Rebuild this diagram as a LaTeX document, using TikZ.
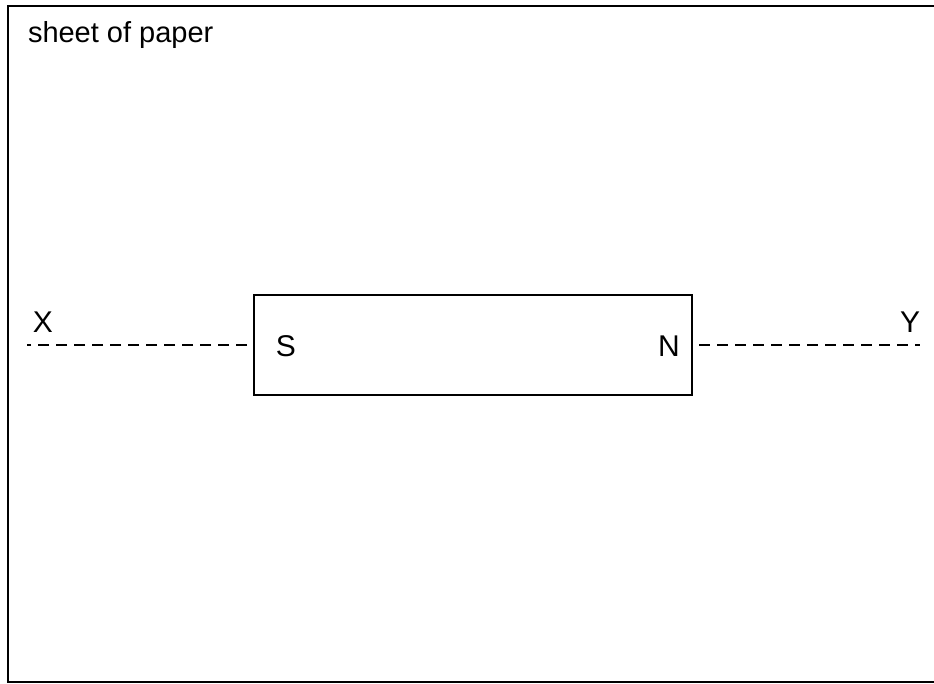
\documentclass[tikz,border=0pt]{standalone}
\usepackage{fontspec}
\setmainfont{Liberation Sans}
\usepackage{tikz}
\usetikzlibrary{positioning}

\begin{document}
\begin{tikzpicture}[
        x = 1pt, y = -1pt,
        letter/.style = {
            inner sep = 0pt,
            outer sep = 0pt,
            anchor = base,
            font = \fontsize{#1}{#1}\selectfont
        },
        letter/.default = 30pt,
        magnet/.style = {
            draw,
            rectangle,
            line width = 2pt,
            minimum width = 438pt,
            minimum height = 100pt,
            inner sep = 0pt
        },
        fieldline/.style = {
            line width = 2pt,
            dash pattern = on 11pt off 7pt,
            shorten <= 6pt
        }
    ]
    \useasboundingbox (0,0) rectangle (934,684);
    \draw[line width = 2pt] (8,6) rectangle (950,682);
    \node[letter=29pt, anchor=base west] (sheet) at (28,43) {sheet of paper};

    \node[magnet] (bar) at (473,345) {};
    \node[letter] (S) at (286,357) {S};
    \node[letter] (N) at (669,357) {N};

    \coordinate (left) at (27,345);
    \coordinate (right) at (920,345);
    \node[letter] (X) at (43,333) {X};
    \node[letter] (Y) at (910,333) {Y};

    \draw[fieldline] (bar.west) -- (left);
    \draw[fieldline] (bar.east) -- (right);
\end{tikzpicture}
\end{document}
